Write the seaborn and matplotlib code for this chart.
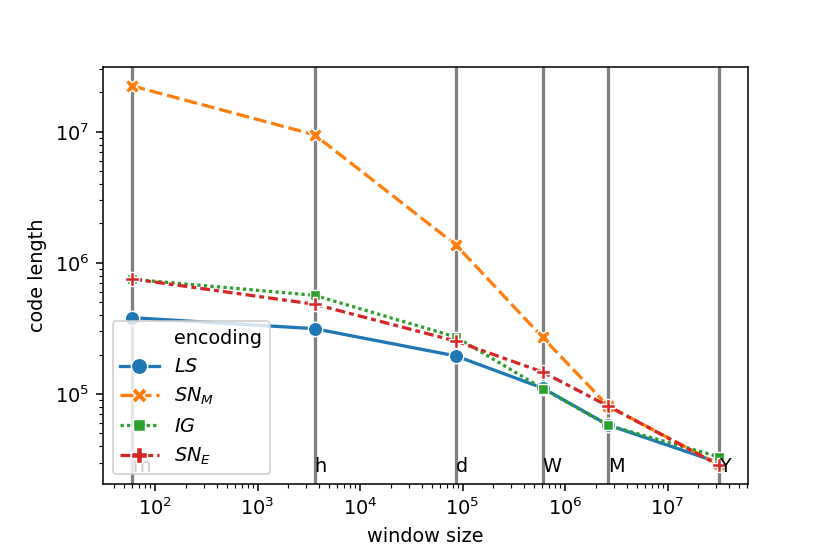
import matplotlib
matplotlib.use("Agg")
import matplotlib.pyplot as plt
from matplotlib.lines import Line2D
import seaborn as sns
import pandas as pd

window_sizes = [60, 3600, 86400, 604800, 2629800, 31557600]
window_labels = ["m", "h", "d", "W", "M", "Y"]
encodings = ["$LS$", "$SN_M$", "$IG$", "$SN_E$"]
ls_vals = [3.82e5, 3.15e5, 1.95e5, 1.11e5, 5.8e4, 3.0e4]
snm_vals = [2.24e7, 9.5e6, 1.37e6, 2.7e5, 8.1e4, 2.9e4]
ig_vals = [7.5e5, 5.66e5, 2.72e5, 1.1e5, 5.77e4, 3.32e4]
sne_vals = [7.55e5, 4.84e5, 2.53e5, 1.47e5, 8.1e4, 2.87e4]

rows = []
for enc, vals in zip(encodings, [ls_vals, snm_vals, ig_vals, sne_vals]):
    for x, y in zip(window_sizes, vals):
        rows.append({"window size": x, "code length": y, "encoding": enc})
df = pd.DataFrame(rows)

dpi = 138.3
fig = plt.figure(figsize=(830 / dpi, 554 / dpi), dpi=dpi)
ax = fig.add_axes([103 / 830, 1 - 484 / 554, (748 - 103) / 830, (484 - 67) / 554])

for x, lab in zip(window_sizes, window_labels):
    ax.axvline(x, color="gray", lw=1.7, zorder=0.5)
    ax.text(x, 0.029, lab, transform=ax.get_xaxis_transform(), ha="left",
            va="baseline", fontsize=10, zorder=3)

sns.lineplot(data=df, x="window size", y="code length", hue="encoding",
             style="encoding", markers=True, hue_order=encodings,
             style_order=encodings, ax=ax, markersize=7.5, linewidth=1.7)
ax.set_xscale("log")
ax.set_yscale("log")

handles, labels = ax.get_legend_handles_labels()
for h in handles:
    h.set_markersize(8.5)
    h.set_linewidth(1.7)
blank = Line2D([], [], linestyle="none", marker=None)
ax.legend([blank] + handles, ["encoding"] + labels, loc="lower left")

fig.savefig("out.png", dpi=dpi)
